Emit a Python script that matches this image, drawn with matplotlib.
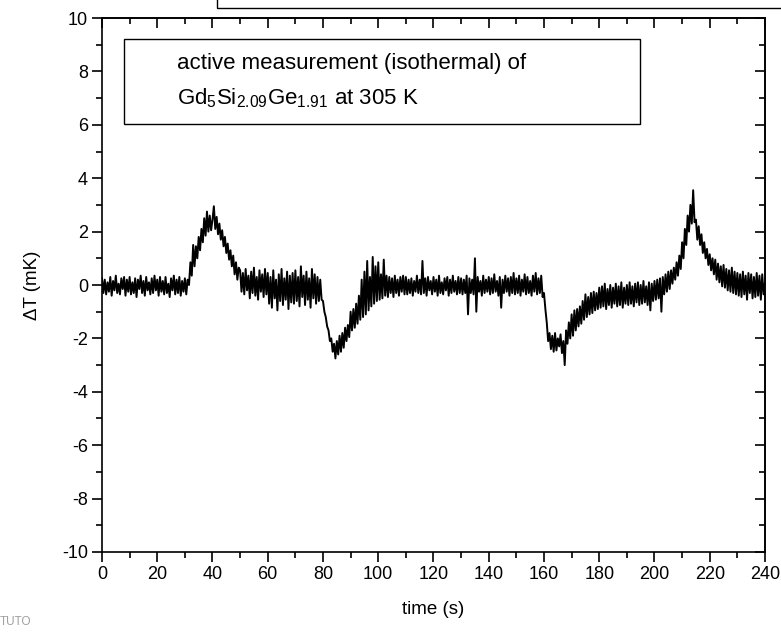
import numpy as np
import matplotlib
matplotlib.use("Agg")
import matplotlib.pyplot as plt
from matplotlib.patches import Rectangle

plt.rcParams['font.family'] = ['Liberation Sans', 'DejaVu Sans']
plt.rcParams['mathtext.fontset'] = 'custom'
plt.rcParams['mathtext.rm'] = 'Liberation Sans'
plt.rcParams['mathtext.it'] = 'Liberation Sans:italic'
plt.rcParams['axes.unicode_minus'] = False

# sampling step of the trace (s)
step_s = 0.5

# temperature difference (mK), every 0.5 s from t = 0 to 240 s
dT_mK = [
    0.25, -0.30, 0.20, -0.35, 0.10, -0.25, 0.30, -0.40, 0.15, -0.20, 0.35, -0.30, 0.05, -0.35, 0.25, -0.15, 0.30, -0.40, 0.20, -0.25,
    0.30, -0.35, 0.10, -0.30, 0.25, -0.45, 0.20, -0.15, 0.35, -0.30, 0.15, -0.40, 0.30, -0.20, 0.10, -0.35, 0.25, -0.30, 0.35, -0.20,
    0.20, -0.40, 0.30, -0.25, 0.15, -0.35, 0.30, -0.30, 0.05, -0.45, 0.25, -0.20, 0.35, -0.35, 0.20, -0.30, 0.30, -0.40, 0.15, -0.25,
    0.25, -0.35, 0.20, 0.00, 0.85, 0.35, 1.50, 0.70, 1.45, 1.00, 1.80, 1.30, 2.10, 1.60, 2.50, 1.85, 2.75, 2.00, 2.60, 2.05,
    2.45, 2.95, 2.10, 2.55, 1.90, 2.30, 1.70, 2.05, 1.45, 1.80, 1.20, 1.55, 0.95, 1.30, 0.70, 1.10, 0.40, 0.85, 0.20, 0.65,
    0.55, -0.25, 0.45, -0.35, 0.60, -0.20, 0.35, -0.50, 0.50, -0.30, 0.65, -0.40, 0.30, -0.55, 0.55, -0.25, 0.40, -0.45, 0.60, -0.35,
    0.45, -0.70, 0.30, -0.85, 0.55, -0.50, 0.20, -0.95, 0.40, -0.60, 0.60, -0.75, 0.25, -0.55, 0.50, -0.90, 0.35, -0.65, 0.45, -0.70,
    0.55, -0.60, 0.30, -0.80, 0.70, -0.45, 0.35, -0.75, 0.50, -0.55, 0.25, -0.85, 0.60, -0.50, 0.40, -0.70, 0.30, -0.60, 0.20, -0.55,
    -0.60, -1.00, -1.20, -1.55, -1.70, -2.10, -2.00, -2.50, -2.20, -2.75, -2.10, -2.60, -1.90, -2.50, -1.80, -2.35, -1.60, -2.10, -1.50, -1.95,
    -1.00, -1.70, -0.90, -1.60, -0.70, -1.45, -0.40, -1.30, 0.20, -1.20, 0.50, -1.10, 0.90, -0.95, 0.30, -0.80, 1.05, -0.70, 0.70, -0.60,
    0.85, -0.55, 0.40, -0.50, 0.95, -0.40, 0.35, -0.45, 0.30, -0.30, 0.25, -0.45, 0.35, -0.30, 0.20, -0.40, 0.30, -0.25, 0.35, -0.35,
    0.30, -0.35, 0.20, -0.30, 0.25, -0.40, 0.15, -0.25, 0.35, -0.30, 0.20, -0.35, 0.90, -0.30, 0.25, -0.40, 0.30, -0.20, 0.15, -0.35,
    0.30, -0.25, 0.20, -0.40, 0.35, -0.30, 0.10, -0.35, 0.25, -0.20, 0.30, -0.40, 0.20, -0.30, 0.35, -0.25, 0.15, -0.35, 0.30, -0.30,
    0.25, -0.35, 0.20, -0.30, 0.35, -1.10, 0.25, -0.30, 0.20, -0.35, 1.00, -1.00, 0.30, -0.25, 0.15, -0.40, 0.35, -0.30, 0.20, -0.25,
    0.30, -0.35, 0.25, -0.30, 0.40, -0.25, 0.15, -0.40, 0.30, -0.85, 0.20, -0.30, 0.35, -0.25, 0.25, -0.40, 0.30, -0.30, 0.45, -0.35,
    0.25, -0.30, 0.35, -0.40, 0.20, -0.25, 0.40, -0.35, 0.30, -0.30, 0.15, -0.40, 0.35, -0.25, 0.45, -0.35, 0.25, -0.30, 0.35, -0.45,
    -0.30, -0.90, -1.40, -2.10, -1.80, -2.40, -1.90, -2.50, -1.80, -2.45, -2.00, -2.30, -1.85, -2.55, -2.10, -3.00, -1.70, -2.20, -1.40, -2.00,
    -1.10, -1.90, -0.95, -1.70, -0.90, -1.55, -0.80, -1.45, -0.60, -1.30, -0.35, -1.20, -0.45, -1.10, -0.30, -1.05, -0.25, -0.95, -0.30, -0.90,
    -0.10, -0.85, -0.05, -0.80, 0.05, -0.90, -0.15, -0.75, 0.00, -0.85, -0.10, -0.70, 0.05, -0.80, -0.05, -0.75, 0.10, -0.85, -0.10, -0.70,
    0.00, -0.75, 0.10, -0.70, -0.05, -0.80, 0.05, -0.65, 0.10, -0.75, 0.00, -0.70, 0.15, -0.65, -0.05, -0.75, 0.10, -0.95, 0.05, -0.60,
    0.15, -0.55, 0.20, -0.50, 0.25, -1.00, 0.30, -0.35, 0.40, -0.25, 0.50, -0.15, 0.55, 0.05, 0.65, 0.20, 0.85, 0.35, 1.10, 0.60,
    1.60, 1.00, 2.10, 1.50, 2.60, 2.00, 3.00, 2.30, 3.55, 2.35, 2.45, 1.70, 2.20, 1.50, 1.90, 1.20, 1.60, 1.00, 1.35, 0.75,
    1.15, 0.55, 1.00, 0.40, 0.95, 0.20, 0.80, 0.10, 0.70, -0.05, 0.75, -0.10, 0.60, -0.20, 0.55, -0.25, 0.65, -0.30, 0.50, -0.35,
    0.45, -0.40, 0.40, -0.45, 0.50, -0.35, 0.35, -0.55, 0.45, -0.30, 0.40, -0.50, 0.30, -0.45, 0.45, -0.40, 0.35, -0.55, 0.40, -0.35,
    0.10,
]
time_s = np.arange(len(dT_mK)) * step_s

x_ticks = [0, 20, 40, 60, 80, 100, 120, 140, 160, 180, 200, 220, 240]
y_ticks = [-10, -8, -6, -4, -2, 0, 2, 4, 6, 8, 10]

fig = plt.figure(figsize=(7.81, 6.32), dpi=100)
ax = fig.add_axes([0.1306, 0.1266, 0.8489, 0.8449])

ax.plot(time_s, dT_mK, color='black', lw=1.4)

ax.set_xlim(0, 240)
ax.set_ylim(-10, 10)
ax.set_xticks(x_ticks)
ax.set_yticks(y_ticks)
ax.set_xticks(np.arange(10, 240, 20), minor=True)
ax.set_yticks(np.arange(-9, 10, 2), minor=True)
ax.tick_params(which='major', direction='out', length=7, width=1.2, labelsize=13, pad=3)
ax.tick_params(which='minor', direction='out', length=4, width=1.2)
for s in ax.spines.values():
    s.set_linewidth(1.2)

# inward ticks on top and right
top = ax.secondary_xaxis('top')
top.set_xticks(x_ticks)
top.set_xticks(np.arange(10, 240, 20), minor=True)
top.tick_params(which='major', direction='in', length=7, width=1.2, labeltop=False)
top.tick_params(which='minor', direction='in', length=4, width=1.2)
right = ax.secondary_yaxis('right')
right.set_yticks(y_ticks)
right.set_yticks(np.arange(-9, 10, 2), minor=True)
right.tick_params(which='major', direction='in', length=7, width=1.2, labelright=False)
right.tick_params(which='minor', direction='in', length=4, width=1.2)
for sa in (top, right):
    for s in sa.spines.values():
        s.set_linewidth(1.2)

ax.set_xlabel('time (s)', fontsize=13.5, labelpad=13)
ax.set_ylabel('\u0394T (mK)', fontsize=13.5, labelpad=15)

# annotation box
W, H = 781, 632
fig.add_artist(Rectangle((124 / W, 1 - 124 / H), (640 - 124) / W, (124 - 39) / H,
                         transform=fig.transFigure, fill=False, lw=1.0, ec='black'))
fig.text(177 / W, 1 - 63 / H, 'active measurement (isothermal) of', fontsize=16, va='center', ha='left')
fig.text(177 / W, 1 - 98 / H, r'$\mathregular{Gd_5Si_{2.09}Ge_{1.91}}$ at 305 K', fontsize=16, va='center', ha='left')

# box cut off at the top of the page
fig.add_artist(Rectangle((217 / W, 1 - 8 / H), (W + 10 - 217) / W, 20 / H,
                         transform=fig.transFigure, fill=False, lw=1.0, ec='black', clip_on=False))

# leftover of a logo in the bottom left corner
fig.text(0.0, 1 - 622 / H, 'TUTO', fontsize=8.5, color='#a0a0a0', va='center', ha='left')

fig.savefig('out.png', dpi=100)
